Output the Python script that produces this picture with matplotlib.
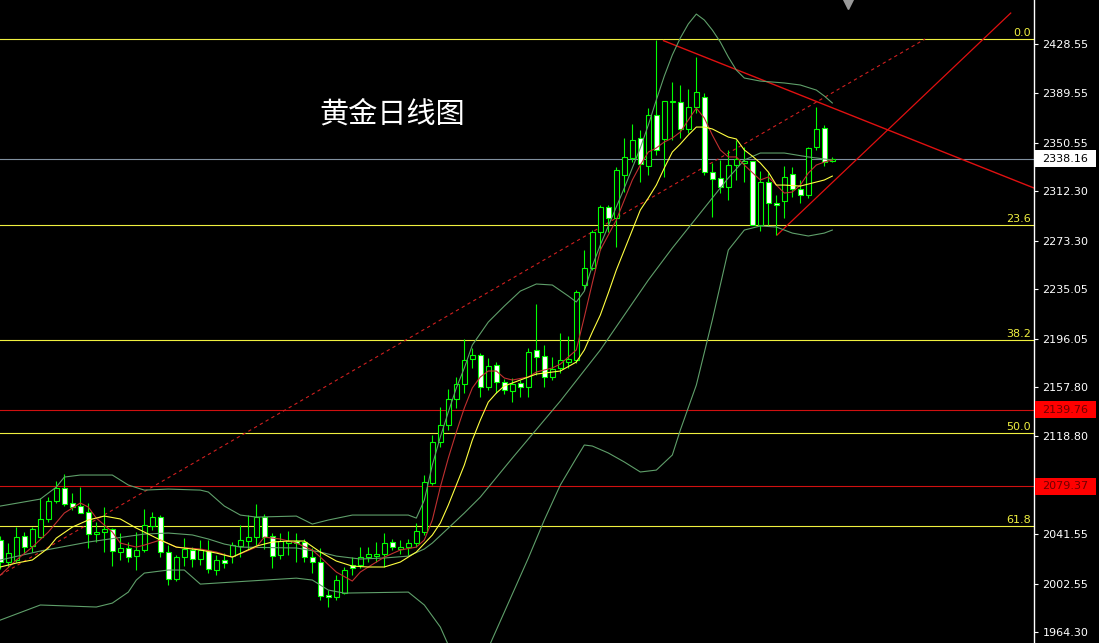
import numpy as np
import matplotlib
matplotlib.use("Agg")
import matplotlib.pyplot as plt
from matplotlib.patches import Rectangle
from matplotlib import transforms

# Daily gold candles (oldest -> newest)
opens = [2037.0, 2019.8, 2021.1, 2040.4, 2032.2, 2039.0, 2053.3, 2068.0, 2077.7, 2065.9,
         2064.0, 2058.8, 2041.4, 2043.5, 2045.3, 2027.7, 2030.4, 2024.6, 2029.0, 2048.0,
         2055.4, 2027.7, 2006.0, 2023.8, 2029.5, 2021.7, 2028.2, 2013.2, 2021.1, 2024.5,
         2032.4, 2036.4, 2039.6, 2054.8, 2040.3, 2025.1, 2034.3, 2036.4, 2035.1, 2023.3,
         2019.9, 1993.5, 1992.2, 1994.9, 2017.2, 2017.2, 2023.3, 2024.6, 2025.6, 2035.1,
         2029.6, 2031.7, 2034.9, 2043.5, 2081.7, 2114.6, 2127.8, 2148.3, 2160.1, 2179.6,
         2183.0, 2158.0, 2175.1, 2162.0, 2154.9, 2160.7, 2157.5, 2186.9, 2182.2, 2165.9,
         2172.5, 2177.5, 2179.1, 2238.3, 2251.5, 2280.4, 2300.2, 2290.9, 2325.1, 2338.3,
         2354.1, 2332.5, 2372.5, 2353.3, 2382.5, 2382.5, 2361.2, 2379.1, 2387.0, 2327.7,
         2322.5, 2315.4, 2333.0, 2334.8, 2336.2, 2285.6, 2319.8, 2303.2, 2304.8, 2325.6,
         2313.8, 2309.3, 2346.9, 2362.5, 2336.4]
highs = [2040.0, 2034.3, 2047.5, 2043.0, 2047.5, 2069.8, 2071.1, 2083.8, 2089.0, 2074.3,
         2078.5, 2066.4, 2051.4, 2063.3, 2046.1, 2042.7, 2035.6, 2043.5, 2061.1, 2059.3,
         2056.7, 2033.0, 2025.0, 2038.8, 2031.6, 2037.4, 2036.9, 2025.1, 2026.4, 2035.6,
         2048.8, 2056.7, 2065.3, 2057.4, 2042.7, 2042.2, 2044.3, 2042.2, 2037.5, 2030.4,
         2030.4, 1997.5, 2009.3, 2015.9, 2023.8, 2031.7, 2031.7, 2035.7, 2042.2, 2037.5,
         2036.9, 2038.0, 2050.1, 2088.3, 2119.9, 2142.3, 2156.0, 2165.9, 2195.4, 2188.3,
         2184.9, 2180.4, 2177.7, 2163.9, 2164.6, 2163.0, 2188.2, 2223.0, 2190.9, 2181.1,
         2200.1, 2198.0, 2234.0, 2265.9, 2282.0, 2301.5, 2301.5, 2331.7, 2354.1, 2365.1,
         2360.6, 2377.8, 2431.7, 2383.5, 2398.8, 2396.2, 2392.8, 2418.0, 2389.6, 2334.3,
         2336.9, 2344.8, 2352.7, 2347.5, 2336.2, 2328.5, 2326.9, 2309.3, 2332.2, 2331.1,
         2321.1, 2347.5, 2378.5, 2364.6, 2339.0]
lows = [2014.0, 2015.9, 2019.8, 2026.4, 2027.7, 2038.3, 2051.4, 2066.4, 2063.8, 2060.6,
        2058.0, 2030.4, 2035.6, 2027.7, 2016.4, 2021.1, 2019.8, 2013.2, 2027.7, 2044.8,
        2023.8, 2001.4, 2004.8, 2016.4, 2015.9, 2017.2, 2011.1, 2009.3, 2015.3, 2019.0,
        2023.8, 2030.3, 2033.0, 2030.3, 2014.6, 2022.4, 2025.1, 2019.9, 2019.9, 2011.2,
        1989.6, 1983.8, 1989.6, 1994.3, 2009.3, 2014.6, 2019.9, 2019.9, 2015.9, 2029.0,
        2026.0, 2025.1, 2031.7, 2040.9, 2080.4, 2110.2, 2123.8, 2140.9, 2152.8, 2172.5,
        2150.1, 2155.4, 2152.8, 2152.3, 2146.2, 2150.1, 2150.1, 2167.2, 2157.4, 2163.2,
        2168.5, 2173.0, 2177.0, 2234.4, 2250.0, 2265.9, 2280.4, 2268.6, 2312.0, 2335.6,
        2319.8, 2325.1, 2340.9, 2323.8, 2352.7, 2354.1, 2358.0, 2373.8, 2325.1, 2292.2,
        2310.6, 2305.4, 2321.1, 2319.8, 2285.6, 2281.1, 2285.6, 2277.7, 2290.9, 2308.0,
        2302.7, 2306.7, 2344.8, 2332.2, 2335.5]
closes = [2019.8, 2026.9, 2039.6, 2031.1, 2045.6, 2053.3, 2067.7, 2077.7, 2065.1, 2062.7,
          2058.5, 2041.7, 2043.5, 2045.6, 2028.2, 2030.4, 2023.8, 2029.0, 2048.8, 2054.8,
          2027.7, 2006.0, 2023.2, 2030.3, 2021.9, 2029.0, 2013.8, 2021.1, 2019.0, 2033.0,
          2036.9, 2039.6, 2055.3, 2039.6, 2024.5, 2036.4, 2036.2, 2034.3, 2023.8, 2019.9,
          1993.0, 1991.7, 2005.4, 2013.3, 2015.1, 2023.8, 2025.6, 2025.9, 2034.9, 2031.2,
          2031.7, 2034.9, 2044.0, 2083.0, 2114.1, 2127.8, 2148.3, 2160.1, 2179.1, 2183.0,
          2158.0, 2174.3, 2162.0, 2155.4, 2160.1, 2157.5, 2185.6, 2181.1, 2165.9, 2171.7,
          2179.0, 2180.0, 2233.0, 2251.5, 2280.4, 2299.6, 2290.9, 2329.1, 2339.1, 2352.7,
          2333.8, 2372.5, 2344.8, 2383.5, 2383.3, 2361.2, 2378.5, 2390.4, 2327.7, 2321.7,
          2315.9, 2333.0, 2337.5, 2336.2, 2285.6, 2319.8, 2303.2, 2301.7, 2323.8, 2313.8,
          2309.3, 2346.1, 2361.1, 2335.6, 2338.16]

# Bollinger bands (bar index, price)
ub_bar = [0, 5, 7, 8, 10, 14, 16, 18, 21, 25, 26, 28, 30, 32, 37, 39, 41, 44, 51, 52,
          53, 54, 55, 56, 57, 58, 59, 61, 63, 65, 67, 69, 71, 72, 73, 74, 75, 76, 77, 78,
          79, 80, 81, 82, 83, 84, 85, 86, 87, 88, 89, 90, 91, 92, 93, 95, 98, 100, 102, 103, 104]
ub_val = [2063.8, 2069.3, 2078.8, 2086.7, 2088.3, 2088.3, 2080.4, 2076.4, 2077.2, 2076.4,
          2074.9, 2063.8, 2056.7, 2055.1, 2055.9, 2049.6, 2052.8, 2056.7, 2056.7, 2054.3,
          2068.5, 2096.2, 2118.3, 2138.0, 2157.0, 2172.8, 2190.9, 2209.1, 2221.7, 2233.5,
          2239.1, 2238.3, 2229.6, 2224.9, 2233.5, 2253.3, 2269.9, 2284.9, 2299.9, 2314.9,
          2330.7, 2346.5, 2364.6, 2384.4, 2403.3, 2419.9, 2433.3, 2444.4, 2452.2, 2447.5,
          2439.6, 2430.1, 2418.3, 2408.0, 2401.7, 2399.3, 2397.8, 2396.2, 2392.2, 2387.5, 2382.0]
mb_bar = [0, 5, 11, 18, 21, 24, 26, 28, 30, 37, 40, 42, 45, 48, 51, 53, 54, 56, 58, 60,
          64, 70, 75, 81, 84, 89, 91, 93, 95, 98, 101, 104]
mb_val = [2021.2, 2028.3, 2035.4, 2041.7, 2042.5, 2041.0, 2037.8, 2033.8, 2031.4, 2030.7,
          2027.5, 2024.3, 2022.0, 2022.8, 2024.3, 2029.9, 2034.6, 2046.4, 2058.3, 2070.9,
          2101.7, 2146.7, 2187.0, 2242.2, 2267.5, 2307.0, 2322.8, 2337.0, 2342.5, 2342.5,
          2339.4, 2337.0]
lb_bar = [0, 5, 12, 14, 16, 17, 18, 21, 23, 25, 29, 37, 39, 41, 43, 51, 53, 55, 56, 57,
          58, 59, 60, 61, 62, 64, 66, 68, 70, 72, 73, 74, 76, 78, 80, 82, 84, 85, 87, 89,
          91, 93, 95, 97, 99, 101, 103, 104]
lb_val = [1973.8, 1985.7, 1984.1, 1987.2, 1995.9, 2005.4, 2010.9, 2013.3, 2013.3, 2002.2,
          2003.8, 2006.9, 2005.4, 1997.5, 1995.1, 1995.9, 1985.7, 1968.3, 1954.1, 1942.2,
          1932.7, 1929.6, 1938.3, 1951.7, 1965.9, 1994.3, 2022.7, 2052.8, 2080.4, 2101.7,
          2112.0, 2111.2, 2105.7, 2098.6, 2090.7, 2092.2, 2104.1, 2123.8, 2159.3, 2210.7,
          2265.9, 2281.7, 2284.9, 2284.1, 2279.3, 2277.0, 2279.3, 2281.7]

# fast moving average (red)
ma_fast_bar = [0, 2, 4, 6, 8, 10, 11, 12, 14, 15, 17, 18, 20, 22, 25, 27, 29, 32, 33, 35,
               37, 39, 40, 42, 44, 45, 46, 48, 50, 52, 53, 54, 55, 56, 57, 58, 59, 60, 61,
               62, 63, 64, 66, 67, 69, 70, 72, 73, 74, 75, 76, 77, 78, 79, 80, 81, 82, 83,
               84, 85, 86, 87, 88, 89, 90, 91, 92, 93, 95, 96, 97, 98, 99, 100, 101, 102, 103, 104]
ma_fast_val = [2009.3, 2021.2, 2031.4, 2043.3, 2058.3, 2066.2, 2063.0, 2054.3, 2043.3, 2034.6,
               2031.4, 2033.0, 2037.0, 2031.4, 2029.9, 2027.5, 2023.5, 2031.4, 2039.3, 2037.8,
               2034.6, 2029.1, 2023.5, 2011.7, 2004.6, 2011.7, 2015.7, 2023.5, 2029.1, 2031.4,
               2037.0, 2052.8, 2078.8, 2101.7, 2122.2, 2141.2, 2157.0, 2165.7, 2170.4, 2170.4,
               2164.9, 2163.3, 2165.7, 2169.6, 2172.8, 2175.9, 2187.0, 2213.0, 2239.9, 2265.9,
               2277.8, 2289.6, 2305.4, 2321.2, 2333.0, 2343.3, 2346.5, 2351.2, 2354.3, 2359.1,
               2368.6, 2378.0, 2370.1, 2356.7, 2344.9, 2339.4, 2339.4, 2333.0, 2321.2, 2323.6,
               2317.2, 2310.9, 2311.7, 2317.2, 2326.7, 2333.0, 2335.4, 2337.0]

# slow moving average (yellow)
ma_slow_bar = [0, 2, 4, 6, 7, 9, 11, 13, 15, 17, 18, 20, 22, 25, 27, 29, 32, 34, 36, 38,
               40, 42, 44, 46, 48, 50, 52, 54, 55, 56, 57, 58, 59, 60, 61, 62, 63, 65, 67,
               69, 70, 72, 73, 74, 75, 76, 77, 78, 79, 80, 81, 82, 83, 84, 85, 86, 87, 88,
               89, 90, 91, 92, 93, 94, 95, 96, 97, 98, 100, 101, 102, 103, 104]
ma_slow_val = [2015.7, 2018.8, 2021.2, 2030.7, 2038.5, 2047.2, 2052.8, 2055.9, 2053.6, 2046.4,
               2043.3, 2037.0, 2031.4, 2029.1, 2026.7, 2023.5, 2032.2, 2035.4, 2036.2, 2036.2,
               2027.5, 2020.4, 2016.4, 2015.7, 2015.7, 2019.6, 2027.5, 2040.9, 2050.4, 2064.6,
               2080.4, 2096.2, 2115.9, 2131.7, 2145.9, 2153.0, 2158.6, 2163.3, 2168.0, 2169.6,
               2170.4, 2177.5, 2187.0, 2201.2, 2214.6, 2232.0, 2250.1, 2265.9, 2281.7, 2297.5,
               2307.0, 2317.2, 2330.7, 2343.3, 2349.6, 2356.7, 2363.0, 2363.0, 2361.5, 2358.3,
               2355.1, 2353.6, 2344.9, 2340.1, 2334.6, 2327.5, 2317.2, 2317.2, 2316.4, 2318.0,
               2319.6, 2321.2, 2324.3]

# Fibonacci retracement levels
fib_prices = [2432.5, 2285.65, 2194.9, 2121.5, 2048.1]
fib_labels = ["0.0", "23.6", "38.2", "50.0", "61.8"]

# horizontal support / resistance levels and last price
red_levels = [2139.76, 2079.37]
last_price = 2338.16

axis_ticks = [2428.55, 2389.55, 2350.55, 2312.30, 2273.30, 2235.05, 2196.05,
              2157.80, 2118.80, 2041.55, 2002.55, 1964.30]

# trend lines (bar index, price)
dash_line = ([0, 115.6], [2009.3, 2432.5])
down_line = ([82.9, 129.2], [2431.2, 2314.9])
up_line = ([97.1, 126.3], [2277.8, 2453.0])

W, H = 1099, 643
plot_w = 1034
fig = plt.figure(figsize=(W / 100, H / 100), dpi=100, facecolor="black")
ax = fig.add_axes([0, 0, plot_w / W, 1])
ax.set_facecolor("black")
ax.set_xlim(-0.04, 129.21)
ax.set_ylim(1955.7, 2463.3)

lw = 0.8
green = "#00ff00"
band_c = "#5f9f6a"
ma_red = "#c03030"
ma_yel = "#ffff40"
fib_c = "#f0f040"

# horizontal levels
for p in fib_prices:
    ax.axhline(p, color=fib_c, lw=lw, zorder=1)
for p in red_levels:
    ax.axhline(p, color="#d01010", lw=lw, zorder=1)
ax.axhline(last_price, color="#8090a0", lw=lw, zorder=1)

# trend lines
ax.plot(*dash_line, color="#d02020", lw=lw, dashes=(3, 3), zorder=2)
ax.plot(*down_line, color="#e01010", lw=1.0, zorder=2)
ax.plot(*up_line, color="#e01010", lw=0.9, zorder=2)

# candles
x = np.arange(len(closes))
o = np.array(opens)
c = np.array(closes)
bull = c >= o
bottoms = np.minimum(o, c)
heights = np.maximum(np.abs(c - o), 0.4)
ax.vlines(x, lows, highs, color=green, lw=lw, zorder=3)
ax.bar(x, heights, bottom=bottoms, width=0.62,
       color=np.where(bull, "black", "white"), edgecolor=green, linewidth=lw, zorder=4)

# indicators
ax.plot(ub_bar, ub_val, color=band_c, lw=lw, zorder=5)
ax.plot(mb_bar, mb_val, color=band_c, lw=lw, zorder=5)
ax.plot(lb_bar, lb_val, color=band_c, lw=lw, zorder=5)
ax.plot(ma_fast_bar, ma_fast_val, color=ma_red, lw=lw, zorder=6)
ax.plot(ma_slow_bar, ma_slow_val, color=ma_yel, lw=lw, zorder=6)

# axis on the right
for s in ["left", "top", "bottom"]:
    ax.spines[s].set_visible(False)
ax.spines["right"].set_color("white")
ax.spines["right"].set_linewidth(1.0)
ax.set_xticks([])
ax.yaxis.tick_right()
ax.set_yticks(axis_ticks)
ax.set_yticklabels([f"{v:.2f}" for v in axis_ticks])
ax.tick_params(axis="y", colors="white", length=3, width=0.8, pad=3, labelsize=8)

# fib labels
bt = transforms.blended_transform_factory(ax.transAxes, ax.transData)
for p, lab in zip(fib_prices, fib_labels):
    ax.text(0.997, p + 0.8, lab, transform=bt, color=fib_c, fontsize=8,
            ha="right", va="bottom", zorder=7)

# price boxes on the axis
box_h = 13.4
for p, fc, tc in [(red_levels[0], "#ff0000", "#700000"), (red_levels[1], "#ff0000", "#700000"),
                  (last_price, "white", "black")]:
    ax.add_patch(Rectangle((1.001, p - box_h / 2), 61 / plot_w, box_h, transform=bt,
                           facecolor=fc, edgecolor="none", clip_on=False, zorder=8))
    ax.text(1.0075, p, f"{p:.2f}", transform=bt, color=tc, fontsize=8,
            ha="left", va="center", clip_on=False, zorder=9)

# small marker at the top (chart shift)
ax.plot([106], [2461.0], marker="v", color="#9a9a9a", markersize=8, clip_on=False, zorder=9)

# title
ax.text(392 / plot_w, 1 - 115 / H, "黄金日线图", transform=ax.transAxes, color="white",
        fontsize=21, ha="center", va="center",
        family=["Noto Sans CJK SC", "DejaVu Sans"], zorder=9)

fig.savefig("out.png", dpi=100, facecolor="black")
